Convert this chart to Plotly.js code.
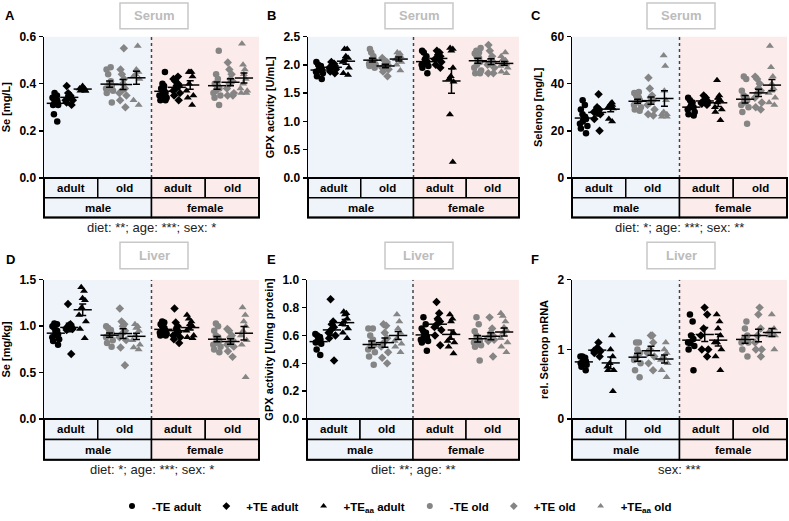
<!DOCTYPE html>
<html><head><meta charset="utf-8">
<script src="https://cdn.plot.ly/plotly-3.0.1.min.js"></script>
<style>body{margin:0;background:#fff}#chart{width:789px;height:521px}</style>
</head><body><div id="chart"></div>
<script>
// Group order: male adult (-TE, +TE, +TEaa), male old (...), female adult (...), female old (...)
const groupNames = ['-TE adult', '+TE adult', '+TE<sub>aa</sub> adult', '-TE old', '+TE old', '+TE<sub>aa</sub> old'];
const ageLabels = ['adult', 'old', 'adult', 'old'];
const sexLabels = ['male', 'female'];

// A: serum Se [mg/L]
const serumSe = [
  [0.36,0.35,0.34,0.33,0.33,0.32,0.32,0.32,0.31,0.31,0.27,0.24],
  [0.39,0.36,0.35,0.35,0.34,0.34,0.33,0.33,0.32,0.31],
  [0.39,0.38,0.38,0.38,0.37,0.37,0.37],
  [0.47,0.46,0.44,0.41,0.40,0.39,0.38,0.38,0.37,0.36,0.32],
  [0.55,0.46,0.44,0.42,0.40,0.38,0.37,0.36,0.35,0.33,0.30],
  [0.56,0.46,0.45,0.44,0.43,0.42,0.33,0.31],
  [0.45,0.40,0.39,0.38,0.37,0.37,0.36,0.36,0.35,0.35,0.34,0.33,0.33],
  [0.43,0.42,0.41,0.40,0.39,0.39,0.38,0.37,0.36,0.35,0.33],
  [0.45,0.45,0.45,0.43,0.40,0.37,0.35,0.34,0.31],
  [0.54,0.44,0.42,0.40,0.40,0.39,0.39,0.38,0.37,0.36,0.35,0.34,0.31],
  [0.49,0.46,0.44,0.42,0.41,0.40,0.38,0.36,0.35,0.35],
  [0.57,0.48,0.46,0.44,0.42,0.40,0.38,0.37,0.36,0.36]
];
// B: serum GPX activity [U/mL]
const serumGpx = [
  [2.05,2.00,1.98,1.95,1.92,1.90,1.88,1.85,1.80,1.75],
  [2.05,2.02,2.00,1.98,1.96,1.95,1.92,1.88,1.85],
  [2.28,2.28,2.15,2.12,2.08,2.05,1.95,1.85,1.82],
  [2.28,2.22,2.15,2.10,2.08,2.05,2.02,2.00,1.98,1.95],
  [2.12,2.08,2.05,2.02,2.00,1.98,1.95,1.92,1.88,1.80],
  [2.22,2.20,2.18,2.15,2.12,2.10,2.05,2.00,1.90],
  [2.25,2.22,2.15,2.10,2.05,2.02,2.00,1.98,1.95,1.85],
  [2.25,2.22,2.18,2.15,2.12,2.10,2.05,2.00,1.95],
  [2.30,2.28,2.25,1.95,1.80,1.75,1.70,1.12,0.28],
  [2.30,2.25,2.22,2.20,2.15,2.12,2.10,2.05,2.00,1.95,1.90,1.85,1.85],
  [2.35,2.25,2.15,2.10,2.05,2.02,2.00,1.95,1.85,1.85],
  [2.22,2.15,2.10,2.08,2.05,2.02,2.00,1.98,1.95,1.88,1.85]
];
// C: serum Selenop [mg/L]
const serumSelenop = [
  [33,31,29,27,26,25,25,24,23,22,21,19],
  [35.5,30,29,28,28,27,25,20],
  [32,31.5,31,30.5,30,29.5,25,24],
  [36.5,36,35,34,33,33,32,31,30,29,28.5],
  [42.5,38,35,34,33,32,31,29,27,26.5],
  [52,47.5,37,33,28,27,27,26,26],
  [34,33,32,31,30,30,29,28,27,26.5],
  [35,34,33,33,32.5,32,32,31.5,31],
  [41.5,35,34,33,32,30,29,28,24.5],
  [43,42,37,35,34,33,33,32,31,30,28,23],
  [43,42,40,38,37,36,34,32,30,29],
  [56,47,43,40,38,37,36,34,32,31]
];
// D: liver Se [mg/kg]
const liverSe = [
  [1.03,1.02,1.00,0.98,0.95,0.93,0.91,0.90,0.88,0.86,0.84,0.80],
  [1.24,1.02,1.01,1.00,1.00,0.98,0.97,0.96,0.70],
  [1.42,1.38,1.30,1.28,1.20,1.12,1.05,0.97,0.87],
  [1.00,0.98,0.96,0.94,0.92,0.90,0.88,0.85,0.82,0.78],
  [1.19,1.05,1.02,1.00,0.95,0.92,0.88,0.85,0.77,0.58],
  [1.02,1.00,0.98,0.95,0.90,0.85,0.80,0.77,0.75],
  [1.05,1.04,1.02,1.00,0.98,0.96,0.95,0.94,0.93,0.92,0.90,0.90],
  [1.19,1.04,1.00,0.97,0.94,0.92,0.90,0.88,0.86,0.82],
  [1.12,1.08,1.05,1.02,1.00,0.98,0.95,0.90,0.88,0.87],
  [1.03,1.00,0.95,0.90,0.88,0.85,0.84,0.82,0.80,0.78,0.75,0.72],
  [0.97,0.95,0.90,0.88,0.85,0.82,0.80,0.78,0.73,0.67],
  [1.20,1.12,1.05,1.00,0.95,0.90,0.85,0.80,0.45]
];
// E: liver GPX activity [U/mg protein]
const liverGpx = [
  [0.61,0.60,0.59,0.58,0.57,0.56,0.55,0.54,0.50,0.46],
  [0.86,0.70,0.68,0.66,0.64,0.62,0.60,0.58,0.42],
  [0.77,0.76,0.75,0.72,0.70,0.68,0.65,0.62,0.58],
  [0.65,0.65,0.60,0.57,0.55,0.53,0.52,0.50,0.48,0.45,0.39],
  [0.68,0.67,0.62,0.58,0.55,0.52,0.48,0.44,0.40],
  [0.75,0.70,0.65,0.62,0.58,0.56,0.54,0.52,0.48],
  [0.73,0.68,0.65,0.63,0.62,0.60,0.59,0.58,0.57,0.56,0.55,0.49],
  [0.84,0.76,0.72,0.70,0.68,0.66,0.64,0.60,0.53],
  [0.75,0.72,0.70,0.62,0.58,0.56,0.55,0.52,0.47],
  [0.73,0.68,0.63,0.60,0.58,0.57,0.56,0.55,0.55,0.53,0.52,0.42],
  [0.73,0.65,0.62,0.60,0.59,0.58,0.57,0.56,0.45],
  [0.76,0.74,0.70,0.66,0.64,0.62,0.58,0.55,0.52,0.48]
];
// F: liver rel. Selenop mRNA
const liverSelenopMrna = [
  [0.90,0.90,0.88,0.85,0.83,0.82,0.80,0.78,0.75,0.70],
  [1.10,1.02,1.00,1.00,0.98,0.97,0.95,0.90],
  [1.20,1.00,0.90,0.80,0.75,0.70,0.70,0.40],
  [1.10,1.10,1.00,0.95,0.90,0.85,0.80,0.70,0.60],
  [1.20,1.20,1.10,1.00,0.95,0.90,0.80,0.70],
  [1.10,1.00,0.95,0.90,0.85,0.80,0.70,0.60],
  [1.50,1.40,1.20,1.15,1.10,1.10,1.05,1.00,0.70],
  [1.60,1.50,1.30,1.20,1.00,1.00,0.90],
  [1.50,1.40,1.30,1.20,1.10,1.10,1.00,0.90,0.70],
  [1.40,1.30,1.20,1.15,1.10,1.10,1.00,0.90],
  [1.60,1.50,1.30,1.20,1.10,1.00,1.00,0.90],
  [1.50,1.30,1.25,1.25,1.20,1.20,1.00]
];

// ---------- layout / styling ----------
const W = 789, H = 521;
const px = x => x / W, py = y => 1 - y / H;
const FONT = 'Arial, "Liberation Sans", Helvetica, sans-serif';
const BLUE = 'rgb(239,243,250)', PINK = 'rgb(251,236,235)';
const BLACK = '#000', GRAY = 'rgb(133,133,133)';
const symbols = ['circle', 'diamond', 'triangle-up'];
const sizes = [6.5, 6.5, 7];
const offsets = [0.22, 0.47, 0.72];

const panels = [
  {letter:'A', data:serumSe, range:[0,0.6], dtick:0.2, fmt:'.1f', title:'Se [mg/L]', x0:44, x1:259, top:37, bot:180, tag:'Serum', cap:'diet: **; age: ***; sex: *', lx:10, ly:16, tagX:[120,188], tagY:[3,29]},
  {letter:'B', data:serumGpx, range:[0,2.5], dtick:0.5, fmt:'.1f', title:'GPX activity [U/mL]', x0:308, x1:519, top:37, bot:180, tag:'Serum', cap:'', lx:271, ly:16, tagX:[385,453], tagY:[3,29]},
  {letter:'C', data:serumSelenop, range:[0,60], dtick:20, fmt:'d', title:'Selenop [mg/L]', x0:572, x1:787, top:37, bot:180, tag:'Serum', cap:'diet: *; age: ***; sex: **', lx:536, ly:16, tagX:[647,715], tagY:[3,29]},
  {letter:'D', data:liverSe, range:[0,1.5], dtick:0.5, fmt:'.1f', title:'Se [mg/kg]', x0:44, x1:259, top:283, bot:424, tag:'Liver', cap:'diet: *; age: ***; sex: *', lx:10, ly:263, tagX:[120,188], tagY:[245,272]},
  {letter:'E', data:liverGpx, range:[0,1.0], dtick:0.2, fmt:'.1f', title:'GPX activity [U/mg protein]', x0:307, x1:519, top:283, bot:424, tag:'Liver', cap:'diet: **; age: **', lx:271, ly:263, tagX:[385,453], tagY:[245,272]},
  {letter:'F', data:liverSelenopMrna, range:[0,2], dtick:1, fmt:'d', title:'rel. Selenop mRNA', x0:572, x1:787, top:283, bot:424, tag:'Liver', cap:'sex: ***', lx:535, ly:263, tagX:[647,715], tagY:[245,272]}
];

const traces = [], shapes = [], annotations = [];
const layout = {
  width: W, height: H, margin: {l:0, r:0, t:0, b:0},
  paper_bgcolor: '#fff', plot_bgcolor: 'rgba(0,0,0,0)',
  font: {family: FONT, color: BLACK},
  showlegend: true,
  legend: {orientation:'h', x:0.5, xanchor:'center', y:py(512), yanchor:'middle',
           font:{family:FONT, size:11.5, weight:'bold', color:BLACK}, bgcolor:'rgba(0,0,0,0)',
           itemclick:false, itemdoubleclick:false, traceorder:'normal', tracegroupgap:0},
  shapes, annotations
};

const mean = a => a.reduce((s,v)=>s+v,0)/a.length;
const sem = a => { const m = mean(a); return Math.sqrt(a.reduce((s,v)=>s+(v-m)*(v-m),0)/(a.length-1)) / Math.sqrt(a.length); };

panels.forEach((p, i) => {
  const s = i === 0 ? '' : String(i + 1);
  const xa = 'x' + s, ya = 'y' + s;
  layout['xaxis' + s] = {domain:[px(p.x0), px(p.x1)], range:[0,4], visible:false, anchor:ya, fixedrange:true};
  layout['yaxis' + s] = {
    domain:[py(p.bot), py(p.top)], range:p.range, dtick:p.dtick, tick0:0, tickformat:p.fmt,
    ticks:'outside', ticklen:4, tickwidth:1.5, tickcolor:BLACK,
    showline:true, linewidth:1.5, linecolor:BLACK, showgrid:false, zeroline:false,
    tickfont:{family:FONT, size:12, weight:'bold', color:BLACK},
    title:{text:p.title, font:{family:FONT, size:11, weight:'bold', color:BLACK}, standoff:6},
    anchor:xa, fixedrange:true
  };
  // shading & divider
  shapes.push({type:'rect', xref:xa, yref:ya, x0:0, x1:2, y0:p.range[0], y1:p.range[1], fillcolor:BLUE, line:{width:0}, layer:'below'});
  shapes.push({type:'rect', xref:xa, yref:ya, x0:2, x1:4, y0:p.range[0], y1:p.range[1], fillcolor:PINK, line:{width:0}, layer:'below'});
  shapes.push({type:'line', xref:xa, yref:ya, x0:2, x1:2, y0:p.range[0], y1:p.range[1], line:{color:'#444', width:1.5, dash:'dot'}, layer:'below'});

  // points + mean/SEM
  const mx = [], my = [], me = [];
  p.data.forEach((vals, g) => {
    const cell = Math.floor(g / 3), k = g % 3;
    const isOld = cell % 2 === 1;
    const pos = cell + offsets[k];
    traces.push({
      type:'box', x:vals.map(() => pos), y:vals, xaxis:xa, yaxis:ya,
      boxpoints:'all', jitter:0.9, pointpos:0, width:0.19,
      line:{width:0, color:'rgba(0,0,0,0)'}, fillcolor:'rgba(0,0,0,0)',
      marker:{symbol:symbols[k], size:sizes[k], color:isOld ? GRAY : BLACK, line:{width:0}},
      showlegend:false, hoverinfo:'skip'
    });
    mx.push(pos); my.push(mean(vals)); me.push(sem(vals));
  });
  traces.push({
    type:'scatter', mode:'markers', x:mx, y:my, xaxis:xa, yaxis:ya,
    marker:{symbol:'line-ew', size:13, color:BLACK, line:{width:1.5, color:BLACK}},
    error_y:{type:'data', array:me, visible:true, color:BLACK, thickness:1.5, width:3.5},
    showlegend:false, hoverinfo:'skip', cliponaxis:false
  });

  // table below the plot
  const cw = (p.x1 - p.x0) / 4, rh = p.bot < 300 ? 20 : 20.5;
  for (let c = 0; c < 4; c++) {
    shapes.push({type:'rect', xref:'paper', yref:'paper', x0:px(p.x0 + c*cw), x1:px(p.x0 + (c+1)*cw), y0:py(p.bot + rh), y1:py(p.bot),
                 fillcolor:c < 2 ? BLUE : PINK, line:{color:BLACK, width:1.5}});
    annotations.push({xref:'paper', yref:'paper', x:px(p.x0 + (c+0.5)*cw), y:py(p.bot + rh/2), text:ageLabels[c], showarrow:false,
                      font:{family:FONT, size:11.5, weight:'bold', color:BLACK}, xanchor:'center', yanchor:'middle'});
  }
  for (let c = 0; c < 2; c++) {
    shapes.push({type:'rect', xref:'paper', yref:'paper', x0:px(p.x0 + c*2*cw), x1:px(p.x0 + (c+1)*2*cw), y0:py(p.bot + 2*rh), y1:py(p.bot + rh),
                 fillcolor:c === 0 ? BLUE : PINK, line:{color:BLACK, width:1.5}});
    annotations.push({xref:'paper', yref:'paper', x:px(p.x0 + (c+0.5)*2*cw), y:py(p.bot + 1.5*rh), text:sexLabels[c], showarrow:false,
                      font:{family:FONT, size:11.5, weight:'bold', color:BLACK}, xanchor:'center', yanchor:'middle'});
  }
  shapes.push({type:'rect', xref:'paper', yref:'paper', x0:px(p.x0), x1:px(p.x1), y0:py(p.bot + 2*rh), y1:py(p.bot),
               fillcolor:'rgba(0,0,0,0)', line:{color:BLACK, width:2}});
  // caption
  if (p.cap) annotations.push({xref:'paper', yref:'paper', x:px((p.x0 + p.x1)/2), y:py(p.bot + 2*rh + 10), text:p.cap, showarrow:false,
                               font:{family:FONT, size:13, color:'#222'}, xanchor:'center', yanchor:'middle'});
  // tissue tag box
  shapes.push({type:'rect', xref:'paper', yref:'paper', x0:px(p.tagX[0]), x1:px(p.tagX[1]), y0:py(p.tagY[1]), y1:py(p.tagY[0]),
               fillcolor:'#fff', line:{color:'#c8c8c8', width:1.5}});
  annotations.push({xref:'paper', yref:'paper', x:px((p.tagX[0]+p.tagX[1])/2), y:py((p.tagY[0]+p.tagY[1])/2), text:p.tag, showarrow:false,
                    font:{family:FONT, size:13, weight:'bold', color:'#bcbcbc'}, xanchor:'center', yanchor:'middle'});
  // panel letter
  annotations.push({xref:'paper', yref:'paper', x:px(p.lx), y:py(p.ly), text:p.letter, showarrow:false,
                    font:{family:FONT, size:13, weight:'bold', color:BLACK}, xanchor:'center', yanchor:'middle'});
});

// legend entries
groupNames.forEach((name, j) => {
  traces.push({type:'scatter', mode:'markers', x:[null], y:[null], xaxis:'x', yaxis:'y', name:name,
               marker:{symbol:symbols[j % 3], size:6, color:j < 3 ? BLACK : GRAY}, hoverinfo:'skip'});
});

Plotly.newPlot('chart', traces, layout, {displayModeBar:false, staticPlot:true});
</script>
</body></html>
